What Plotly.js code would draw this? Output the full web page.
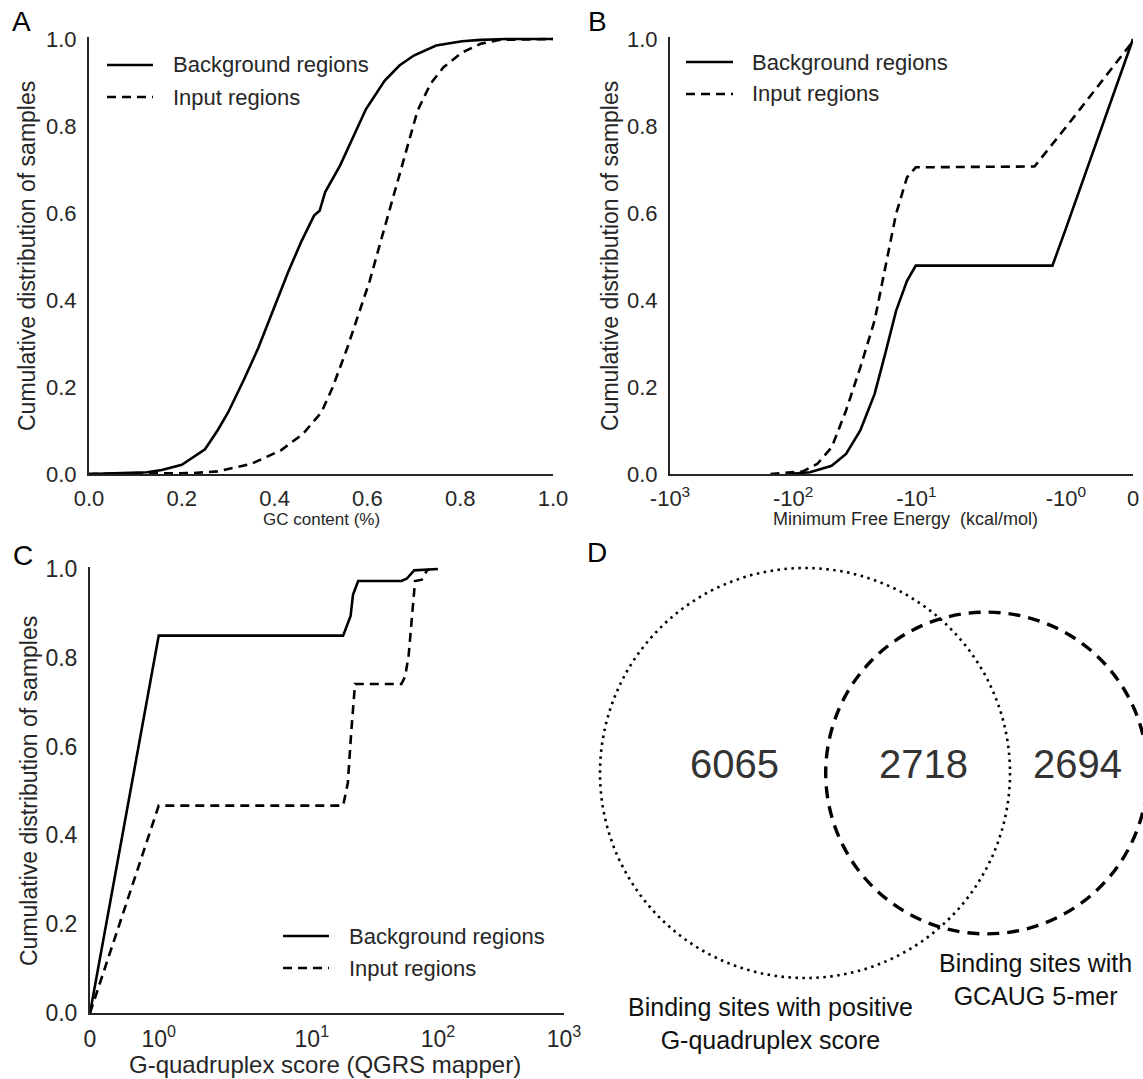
<!DOCTYPE html>
<html><head><meta charset="utf-8">
<script src="https://cdn.plot.ly/plotly-3.0.1.min.js"></script>
<style>html,body{margin:0;padding:0;background:#fff}</style>
</head><body><div id="chart" style="width:1143px;height:1079px"></div>
<script>
// ---------- DATA ----------
// Panel A: GC content CDF
const gcBgX = [0, 0.05, 0.125, 0.157, 0.2, 0.25, 0.277, 0.3, 0.333, 0.365, 0.397, 0.429, 0.457, 0.485, 0.497, 0.509, 0.541, 0.573, 0.597, 0.637, 0.669, 0.7, 0.748, 0.804, 0.844, 0.9, 1.0];
const gcBgY = [0, 0.001, 0.004, 0.009, 0.021, 0.057, 0.1, 0.142, 0.215, 0.29, 0.375, 0.464, 0.533, 0.594, 0.605, 0.648, 0.709, 0.782, 0.839, 0.904, 0.939, 0.962, 0.985, 0.995, 0.998, 1.0, 1.0];
const gcInX = [0, 0.221, 0.277, 0.349, 0.413, 0.461, 0.501, 0.525, 0.557, 0.581, 0.605, 0.629, 0.649, 0.669, 0.685, 0.708, 0.736, 0.764, 0.804, 0.844, 0.884, 0.95, 1.0];
const gcInY = [0, 0.002, 0.006, 0.023, 0.054, 0.092, 0.142, 0.199, 0.291, 0.368, 0.444, 0.536, 0.613, 0.69, 0.751, 0.835, 0.897, 0.935, 0.969, 0.989, 0.998, 1.0, 1.0];
// Panel B: Minimum free energy CDF (kcal/mol)
const mfeBgX = [-110, -73, -48.7, -37.2, -28.5, -21.8, -17.9, -14.6, -11.9, -10.1, -1.23, -1, 0];
const mfeBgY = [0, 0.004, 0.019, 0.046, 0.1, 0.184, 0.276, 0.375, 0.444, 0.479, 0.479, 0.564, 1.0];
const mfeInX = [-153, -83.4, -63.8, -48.7, -37.2, -28.5, -21.8, -17.9, -14.6, -11.9, -10.1, -1.62, -1, 0];
const mfeInY = [0, 0.006, 0.023, 0.061, 0.146, 0.245, 0.353, 0.475, 0.598, 0.682, 0.705, 0.707, 0.797, 0.995];
// Panel C: G-quadruplex score CDF
const g4BgX = [0, 1, 17.7, 19.3, 20.3, 21.2, 23.3, 51.3, 56.5, 64.9, 100];
const g4BgY = [0, 0.85, 0.85, 0.878, 0.894, 0.942, 0.973, 0.973, 0.978, 0.997, 1.0];
const g4InX = [0, 1, 17.7, 19.3, 20.5, 21.6, 22, 51.3, 55, 58.6, 62.6, 65.9, 74.5, 82, 85];
const g4InY = [0, 0.467, 0.467, 0.518, 0.63, 0.718, 0.741, 0.741, 0.758, 0.806, 0.91, 0.973, 0.976, 0.997, 1.0];
// Panel D: Venn counts
const vennOnlyG4 = 6065, vennBoth = 2718, vennOnlyGCAUG = 2694;
const vennSetLabels = ['Binding sites with positive<br>G-quadruplex score', 'Binding sites with<br>GCAUG 5-mer'];
// Labels / ticks
const seriesNames = ['Background regions', 'Input regions'];
const panelLetters = ['A', 'B', 'C', 'D'];
const unitTicks = [0, 0.2, 0.4, 0.6, 0.8, 1.0];
const unitTickText = ['0.0', '0.2', '0.4', '0.6', '0.8', '1.0'];
const mfeTickVals = [-1000, -100, -10, -1, 0];
const mfeTickText = ['-10<sup>3</sup>', '-10<sup>2</sup>', '-10<sup>1</sup>', '-10<sup>0</sup>', '0'];
const g4TickVals = [0, 1, 10, 100, 1000];
const g4TickText = ['0', '10<sup>0</sup>', '10<sup>1</sup>', '10<sup>2</sup>', '10<sup>3</sup>'];
const yTitle = 'Cumulative distribution of samples';
const xTitles = ['GC content (%)', 'Minimum Free Energy\u00a0 (kcal/mol)', 'G-quadruplex score (QGRS mapper)'];

// ---------- SCALES ----------
const W = 1143, H = 1079;
const px = x => x / W, py = y => 1 - y / H;
// symmetric-log style axis (linear 0..1, log beyond)
const SYM_MAG = [0, 1, 10, 100, 1000];
const SYM_POS = [0, 0.145, 0.468, 0.734, 1.0];
function symPos(v) {
  const m = Math.abs(v);
  if (m <= 1) return m * SYM_POS[1];
  for (let i = 1; i < SYM_MAG.length - 1; i++) {
    if (m <= SYM_MAG[i + 1]) {
      const f = (Math.log10(m) - Math.log10(SYM_MAG[i])) / (Math.log10(SYM_MAG[i + 1]) - Math.log10(SYM_MAG[i]));
      return SYM_POS[i] + f * (SYM_POS[i + 1] - SYM_POS[i]);
    }
  }
  return 1;
}
const xB = v => 1 - symPos(v);   // negative values
const xC = v => symPos(v);

// ---------- STYLE ----------
const FONT = 'Liberation Sans, Arial, Helvetica, sans-serif';
const INK = '#262626';
const LW = 2.6;
const DASH = '9px,6px';
const solid = {color: '#000', width: LW};
const dashed = {color: '#000', width: LW, dash: DASH};

const traces = [
  {x: gcBgX, y: gcBgY, xaxis: 'x', yaxis: 'y', mode: 'lines', line: solid, name: seriesNames[0]},
  {x: gcInX, y: gcInY, xaxis: 'x', yaxis: 'y', mode: 'lines', line: dashed, name: seriesNames[1]},
  {x: mfeBgX.map(xB), y: mfeBgY, xaxis: 'x2', yaxis: 'y2', mode: 'lines', line: solid, name: seriesNames[0]},
  {x: mfeInX.map(xB), y: mfeInY, xaxis: 'x2', yaxis: 'y2', mode: 'lines', line: dashed, name: seriesNames[1]},
  {x: g4BgX.map(xC), y: g4BgY, xaxis: 'x3', yaxis: 'y3', mode: 'lines', line: solid, name: seriesNames[0]},
  {x: g4InX.map(xC), y: g4InY, xaxis: 'x3', yaxis: 'y3', mode: 'lines', line: dashed, name: seriesNames[1]}
];
traces.forEach(t => { t.showlegend = false; t.hoverinfo = 'skip'; });

const YTOP = 1.005;
function yDomain(bottomPx, topPx) {
  const top = bottomPx - YTOP * (bottomPx - topPx);
  return [py(bottomPx), py(top)];
}
function axisBase(extra) {
  return Object.assign({
    showline: true, linecolor: INK, linewidth: 2, showgrid: false, zeroline: false,
    ticks: '', tickfont: {family: FONT, size: 22, color: INK}, fixedrange: true
  }, extra);
}

const layout = {
  width: W, height: H, margin: {l: 0, r: 0, t: 0, b: 0},
  paper_bgcolor: '#fff', plot_bgcolor: '#fff', showlegend: false,
  font: {family: FONT, color: INK},
  xaxis: axisBase({domain: [px(89), px(553)], range: [0, 1], tickvals: unitTicks, ticktext: unitTickText, anchor: 'y', ticklabelstandoff: 4}),
  yaxis: axisBase({domain: yDomain(474, 39), range: [0, YTOP], tickvals: unitTicks, ticktext: unitTickText, anchor: 'x', ticklabelstandoff: 6}),
  xaxis2: axisBase({domain: [px(670), px(1133)], range: [0, 1], tickvals: mfeTickVals.map(xB), ticktext: mfeTickText, anchor: 'y2', ticklabelstandoff: 4}),
  yaxis2: axisBase({domain: yDomain(474, 39), range: [0, YTOP], tickvals: unitTicks, ticktext: unitTickText, anchor: 'x2', ticklabelstandoff: 6}),
  xaxis3: axisBase({domain: [px(90), px(564)], range: [0, 1], tickvals: g4TickVals.map(xC), ticktext: g4TickText, anchor: 'y3', ticklabelstandoff: 4, tickfont: {family: FONT, size: 23, color: INK}}),
  yaxis3: axisBase({domain: yDomain(1013, 569), range: [0, YTOP], tickvals: unitTicks, ticktext: unitTickText, anchor: 'x3', ticklabelstandoff: 6, tickfont: {family: FONT, size: 23, color: INK}}),
  shapes: [], annotations: []
};

// ---------- VENN (area-proportional) ----------
const setG4 = vennOnlyG4 + vennBoth, setGC = vennOnlyGCAUG + vennBoth;
const r1 = Math.sqrt(setG4 / Math.PI), r2 = Math.sqrt(setGC / Math.PI);
function lens(d) {
  if (d >= r1 + r2) return 0;
  if (d <= Math.abs(r1 - r2)) return Math.PI * Math.min(r1, r2) ** 2;
  const a = r1 * r1 * Math.acos((d * d + r1 * r1 - r2 * r2) / (2 * d * r1));
  const b = r2 * r2 * Math.acos((d * d + r2 * r2 - r1 * r1) / (2 * d * r2));
  const c = 0.5 * Math.sqrt((-d + r1 + r2) * (d + r1 - r2) * (d - r1 + r2) * (d + r1 + r2));
  return a + b - c;
}
let lo = Math.abs(r1 - r2), hi = r1 + r2;
for (let i = 0; i < 80; i++) { const m = (lo + hi) / 2; if (lens(m) > vennBoth) lo = m; else hi = m; }
const dist = (lo + hi) / 2;
const S = 205 / r1;            // pixels per unit
const C1 = [805, 773];         // pixel centre of first circle
const dDom = [580, 1143], dDomY = [530, 1079];
layout.xaxis4 = {domain: [px(dDom[0]), px(dDom[1])], range: [(dDom[0] - C1[0]) / S, (dDom[1] - C1[0]) / S], visible: false, fixedrange: true, anchor: 'y4'};
layout.yaxis4 = {domain: [py(dDomY[1]), py(dDomY[0])], range: [(C1[1] - dDomY[1]) / S, (C1[1] - dDomY[0]) / S], visible: false, fixedrange: true, anchor: 'x4'};
traces.push({x: [0, dist], y: [0, 0], xaxis: 'x4', yaxis: 'y4', mode: 'markers', marker: {opacity: 0}, showlegend: false, hoverinfo: 'skip'});
layout.shapes.push({type: 'circle', xref: 'x4', yref: 'y4', x0: -r1, x1: r1, y0: -r1, y1: r1, line: {color: '#000', width: 2.6, dash: '2.5px,4.5px'}});
layout.shapes.push({type: 'circle', xref: 'x4', yref: 'y4', x0: dist - r2, x1: dist + r2, y0: -r2, y1: r2, line: {color: '#000', width: 3.4, dash: '12px,8px'}});

function ann(text, x, y, size, extra) {
  layout.annotations.push(Object.assign({
    text: text, xref: 'paper', yref: 'paper', x: px(x), y: py(y), showarrow: false,
    font: {family: FONT, size: size, color: INK}, xanchor: 'center', yanchor: 'middle'
  }, extra || {}));
}
// Venn numbers and labels
ann(String(vennOnlyG4), 734, 764, 40, {font: {family: FONT, size: 40, color: '#333'}});
ann(String(vennBoth), 923, 764, 40, {font: {family: FONT, size: 40, color: '#333'}});
ann(String(vennOnlyGCAUG), 1077, 764, 40, {font: {family: FONT, size: 40, color: '#333'}});
ann(vennSetLabels[0], 770, 1023, 25, {font: {family: FONT, size: 25, color: '#111'}});
ann(vennSetLabels[1], 1035, 979, 25, {font: {family: FONT, size: 25, color: '#111'}});

// Panel letters
const letterPos = [[21, 22], [597, 22], [23, 555], [597, 552]];
panelLetters.forEach((L, i) => ann(L, letterPos[i][0], letterPos[i][1], 28, {font: {family: FONT, size: 28, color: '#000'}}));

// Axis titles
ann(yTitle, 27, 256, 23, {textangle: -90});
ann(yTitle, 610, 256, 23, {textangle: -90});
ann(yTitle, 29, 791, 23, {textangle: -90});
ann(xTitles[0], 321, 519, 17);
ann(xTitles[1], 905, 519, 18);
ann(xTitles[2], 325, 1064, 24);

// Legends (drawn as sample lines + labels)
const legends = [
  {x0: 107, x1: 153, tx: 171, rows: [65, 97]},
  {x0: 686, x1: 733, tx: 750, rows: [62, 94]},
  {x0: 283, x1: 329, tx: 347, rows: [936, 968]}
];
legends.forEach(L => {
  [solid, dashed].forEach((st, k) => {
    layout.shapes.push({type: 'line', xref: 'paper', yref: 'paper', x0: px(L.x0), x1: px(L.x1), y0: py(L.rows[k]), y1: py(L.rows[k]), line: st});
    ann(seriesNames[k], L.tx, L.rows[k], 22, {xanchor: 'left'});
  });
});

Plotly.newPlot('chart', traces, layout, {staticPlot: true, displayModeBar: false});
</script></body></html>
